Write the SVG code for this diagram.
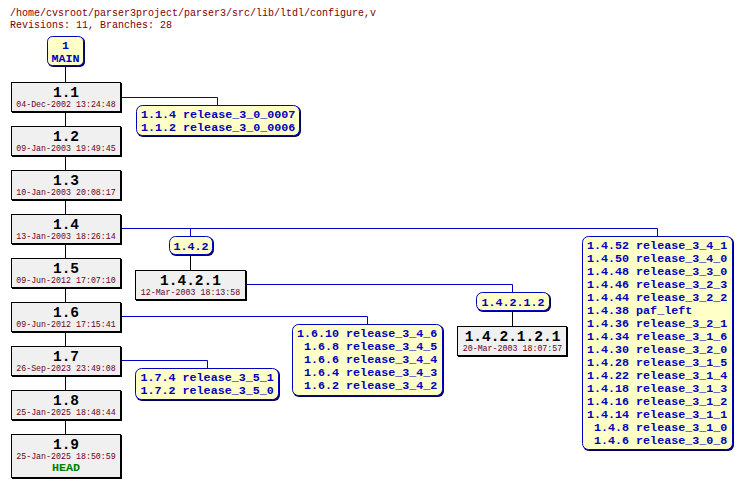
<svg xmlns="http://www.w3.org/2000/svg" width="742" height="487" viewBox="0 0 742 487">
<style>
.hdr{font-family:"Liberation Mono","DejaVu Sans Mono",monospace;font-size:10px;fill:#800000}
.rev{font-family:"Liberation Mono","DejaVu Sans Mono",monospace;font-size:14.5px;font-weight:bold;fill:#000;text-anchor:middle}
.date{font-family:"Liberation Mono","DejaVu Sans Mono",monospace;font-size:8.3px;fill:#6a0020;text-anchor:middle}
.tag{font-family:"Liberation Mono","DejaVu Sans Mono",monospace;font-size:11.7px;font-weight:bold;fill:#0000c0}
.mid{text-anchor:middle}
.head{font-family:"Liberation Mono","DejaVu Sans Mono",monospace;font-size:11.7px;font-weight:bold;fill:#008000;text-anchor:middle}
.box{fill:#f0f0f0;stroke:#000;stroke-width:1}
.sh{fill:#000}
.tbox{fill:#ffffc8;stroke:#0000c0;stroke-width:1}
.tsh{fill:#000060}
.bl{stroke:#0000c0;stroke-width:1;fill:none}
.kl{stroke:#000;stroke-width:1;fill:none}
</style>
<text class="hdr" x="10" y="15.5">/home/cvsroot/parser3project/parser3/src/lib/ltdl/configure,v</text>
<text class="hdr" x="10" y="28">Revisions: 11, Branches: 28</text>
<g id="connectors">
<path class="kl" d="M65.5 66V82M65.5 113V126M65.5 157V170M65.5 201V214M65.5 245V258M65.5 289V302M65.5 333V346M65.5 377V390M65.5 421V434"/>
<path class="bl" d="M122 97.5H217.5V105"/>
<path class="bl" d="M122 228.5H657.5V236M190.5 228.5V236"/>
<path class="bl" d="M247 284.5H512.5V292"/>
<path class="bl" d="M122 316.5H367.5V324"/>
<path class="bl" d="M122 360.5H207.5V368"/>
<path class="kl" d="M190.5 256V270M512.5 312V326"/>
</g>
<g id="main">
<rect class="tsh" x="48" y="37" width="37" height="30" rx="5"/>
<rect class="tbox" x="47.5" y="36.5" width="36" height="29" rx="5"/>
<text class="tag mid" x="65.5" y="49">1</text>
<text class="tag mid" x="65.5" y="62">MAIN</text>
</g>
<g id="r1_1">
<rect class="sh" x="12" y="83" width="110" height="30"/>
<rect class="box" x="11.5" y="82.5" width="109" height="29"/>
<text class="rev" x="66" y="96.5">1.1</text>
<text class="date" x="66" y="106.5">04-Dec-2002 13:24:48</text>
</g>
<g id="r1_2">
<rect class="sh" x="12" y="127" width="110" height="30"/>
<rect class="box" x="11.5" y="126.5" width="109" height="29"/>
<text class="rev" x="66" y="140.5">1.2</text>
<text class="date" x="66" y="150.5">09-Jan-2003 19:49:45</text>
</g>
<g id="r1_3">
<rect class="sh" x="12" y="171" width="110" height="30"/>
<rect class="box" x="11.5" y="170.5" width="109" height="29"/>
<text class="rev" x="66" y="184.5">1.3</text>
<text class="date" x="66" y="194.5">10-Jan-2003 20:08:17</text>
</g>
<g id="r1_4">
<rect class="sh" x="12" y="215" width="110" height="30"/>
<rect class="box" x="11.5" y="214.5" width="109" height="29"/>
<text class="rev" x="66" y="228.5">1.4</text>
<text class="date" x="66" y="238.5">13-Jan-2003 18:26:14</text>
</g>
<g id="r1_5">
<rect class="sh" x="12" y="259" width="110" height="30"/>
<rect class="box" x="11.5" y="258.5" width="109" height="29"/>
<text class="rev" x="66" y="272.5">1.5</text>
<text class="date" x="66" y="282.5">09-Jun-2012 17:07:10</text>
</g>
<g id="r1_6">
<rect class="sh" x="12" y="303" width="110" height="30"/>
<rect class="box" x="11.5" y="302.5" width="109" height="29"/>
<text class="rev" x="66" y="316.5">1.6</text>
<text class="date" x="66" y="326.5">09-Jun-2012 17:15:41</text>
</g>
<g id="r1_7">
<rect class="sh" x="12" y="347" width="110" height="30"/>
<rect class="box" x="11.5" y="346.5" width="109" height="29"/>
<text class="rev" x="66" y="360.5">1.7</text>
<text class="date" x="66" y="370.5">26-Sep-2023 23:49:08</text>
</g>
<g id="r1_8">
<rect class="sh" x="12" y="391" width="110" height="30"/>
<rect class="box" x="11.5" y="390.5" width="109" height="29"/>
<text class="rev" x="66" y="404.5">1.8</text>
<text class="date" x="66" y="414.5">25-Jan-2025 18:48:44</text>
</g>
<g id="r1_9">
<rect class="sh" x="12" y="435" width="110" height="44"/>
<rect class="box" x="11.5" y="434.5" width="109" height="43"/>
<text class="rev" x="66" y="448.5">1.9</text>
<text class="date" x="66" y="458.5">25-Jan-2025 18:50:59</text>
<text class="head" x="66" y="471">HEAD</text>
</g>
<g id="r1_4_2_1">
<rect class="sh" x="136" y="271" width="111" height="30"/>
<rect class="box" x="135.5" y="270.5" width="110" height="29"/>
<text class="rev" x="190.5" y="284.5">1.4.2.1</text>
<text class="date" x="190.5" y="294.5">12-Mar-2003 18:13:58</text>
</g>
<g id="r1_4_2_1_2_1">
<rect class="sh" x="458" y="327" width="110" height="30"/>
<rect class="box" x="457.5" y="326.5" width="109" height="29"/>
<text class="rev" x="512.5" y="340.5">1.4.2.1.2.1</text>
<text class="date" x="512.5" y="350.5">20-Mar-2003 18:07:57</text>
</g>
<g id="t1_1">
<rect class="tsh" x="137" y="106" width="164" height="31" rx="6"/>
<rect class="tbox" x="136.5" y="105.5" width="163" height="30" rx="6"/>
<text class="tag" x="141" y="118">1.1.4 release_3_0_0007</text>
<text class="tag" x="141" y="131">1.1.2 release_3_0_0006</text>
</g>
<g id="t1_4_2">
<rect class="tsh" x="170" y="237" width="44" height="19" rx="6"/>
<rect class="tbox" x="169.5" y="236.5" width="43" height="18" rx="6"/>
<text class="tag mid" x="191" y="250">1.4.2</text>
</g>
<g id="t1_4_2_1_2">
<rect class="tsh" x="477" y="293" width="74" height="19" rx="6"/>
<rect class="tbox" x="476.5" y="292.5" width="73" height="18" rx="6"/>
<text class="tag mid" x="513" y="306">1.4.2.1.2</text>
</g>
<g id="t1_4">
<rect class="tsh" x="583" y="237" width="151" height="214" rx="6"/>
<rect class="tbox" x="582.5" y="236.5" width="150" height="213" rx="6"/>
<text class="tag" x="587" y="249">1.4.52 release_3_4_1</text>
<text class="tag" x="587" y="262">1.4.50 release_3_4_0</text>
<text class="tag" x="587" y="275">1.4.48 release_3_3_0</text>
<text class="tag" x="587" y="288">1.4.46 release_3_2_3</text>
<text class="tag" x="587" y="301">1.4.44 release_3_2_2</text>
<text class="tag" x="587" y="314">1.4.38 paf_left</text>
<text class="tag" x="587" y="327">1.4.36 release_3_2_1</text>
<text class="tag" x="587" y="340">1.4.34 release_3_1_6</text>
<text class="tag" x="587" y="353">1.4.30 release_3_2_0</text>
<text class="tag" x="587" y="366">1.4.28 release_3_1_5</text>
<text class="tag" x="587" y="379">1.4.22 release_3_1_4</text>
<text class="tag" x="587" y="392">1.4.18 release_3_1_3</text>
<text class="tag" x="587" y="405">1.4.16 release_3_1_2</text>
<text class="tag" x="587" y="418">1.4.14 release_3_1_1</text>
<text class="tag" x="587" y="431">&#160;1.4.8 release_3_1_0</text>
<text class="tag" x="587" y="444">&#160;1.4.6 release_3_0_8</text>
</g>
<g id="t1_6">
<rect class="tsh" x="293" y="325" width="151" height="72" rx="6"/>
<rect class="tbox" x="292.5" y="324.5" width="150" height="71" rx="6"/>
<text class="tag" x="297" y="337">1.6.10 release_3_4_6</text>
<text class="tag" x="297" y="350">&#160;1.6.8 release_3_4_5</text>
<text class="tag" x="297" y="363">&#160;1.6.6 release_3_4_4</text>
<text class="tag" x="297" y="376">&#160;1.6.4 release_3_4_3</text>
<text class="tag" x="297" y="389">&#160;1.6.2 release_3_4_2</text>
</g>
<g id="t1_7">
<rect class="tsh" x="136" y="369" width="144" height="32" rx="6"/>
<rect class="tbox" x="135.5" y="368.5" width="143" height="31" rx="6"/>
<text class="tag" x="140.5" y="381">1.7.4 release_3_5_1</text>
<text class="tag" x="140.5" y="394">1.7.2 release_3_5_0</text>
</g>
</svg>
